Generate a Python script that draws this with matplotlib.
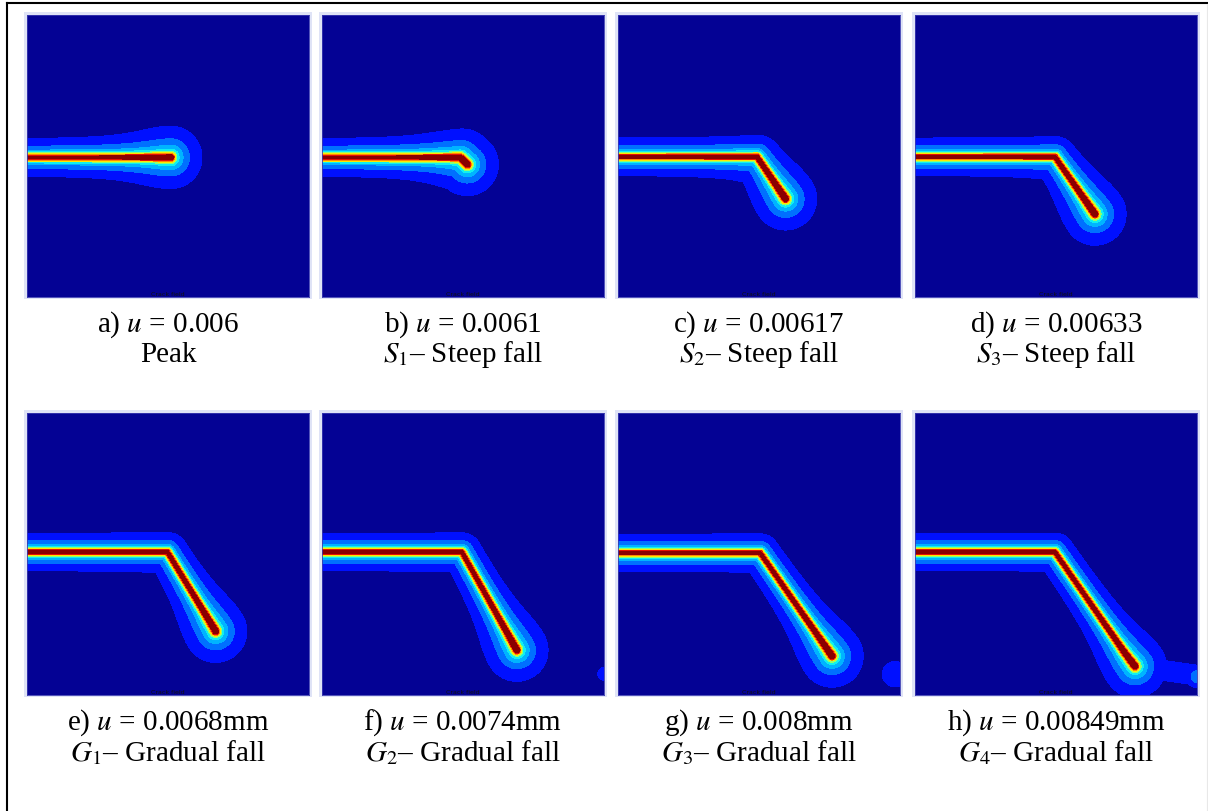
import numpy as np
import matplotlib.pyplot as plt
from matplotlib.patches import Rectangle
from matplotlib.lines import Line2D

plt.rcParams['font.family'] = ['Liberation Serif', 'DejaVu Serif']
plt.rcParams['mathtext.fontset'] = 'stix'

# captions
labels = ['a)', 'b)', 'c)', 'd)', 'e)', 'f)', 'g)', 'h)']
displacements = ['0.006', '0.0061', '0.00617', '0.00633',
                 '0.0068mm', '0.0074mm', '0.008mm', '0.00849mm']
stages = ['Peak', '$S_1$– Steep fall', '$S_2$– Steep fall', '$S_3$– Steep fall',
          '$G_1$– Gradual fall', '$G_2$– Gradual fall', '$G_3$– Gradual fall',
          '$G_4$– Gradual fall']

# crack path vertices, fraction of plate (y from top)
crack_x = [[0, 0.51], [0, 0.49, 0.515], [0, 0.493, 0.594], [0, 0.496, 0.638],
           [0, 0.498, 0.669], [0, 0.496, 0.691], [0, 0.504, 0.759],
           [0, 0.496, 0.74, 0.78]]
crack_y = [[0.505, 0.505], [0.505, 0.505, 0.53], [0.503, 0.503, 0.652],
           [0.503, 0.503, 0.706], [0.493, 0.493, 0.774], [0.493, 0.493, 0.841],
           [0.496, 0.496, 0.862], [0.493, 0.493, 0.845, 0.898]]

# weak damage spots near the right edge
spot_panel = [5, 6, 7]
spot_x = [1.0, 0.982, 1.0]
spot_y = [0.925, 0.926, 0.935]
spot_peak = [0.15, 0.16, 0.26]
spot_rad = [0.035, 0.065, 0.04]

# weak damage band (panel h, tip to right edge)
band_panel = [7]
band_x = [[0.78, 1.0]]
band_y = [[0.898, 0.93]]
band_peak = [0.15]
band_rad = [0.055]

levels = [0, 0.1, 0.2, 0.3, 0.4, 0.5, 0.6, 0.7, 0.8, 0.9, 1.01]
band_colors = ['#040294', '#0010ff', '#0070ff', '#00b4ff', '#10f0f0',
               '#90ff70', '#ffe800', '#ff8a00', '#e61000', '#8a0000']


def seg_dist(px, py, x0, y0, x1, y1):
    dx, dy = x1 - x0, y1 - y0
    t = ((px - x0) * dx + (py - y0) * dy) / (dx * dx + dy * dy)
    t = np.clip(t, 0, 1)
    return np.hypot(px - (x0 + t * dx), py - (y0 + t * dy))


def path_dist(X, Y, px, py):
    d = np.full(X.shape, 10.0)
    for k in range(len(px) - 1):
        d = np.minimum(d, seg_dist(X, Y, px[k], py[k], px[k + 1], py[k + 1]))
    return d


xs = np.linspace(0, 1, 450)
X, Y = np.meshgrid(xs, xs)

fig = plt.figure(figsize=(12.08, 8.12), dpi=100)
W, H = 1208, 812
lefts = [27, 322, 618, 915]
tops = [16, 414]
size = 282

for i in range(8):
    r, c = divmod(i, 4)
    x0, y0 = lefts[c], tops[r]
    fig.patches.append(Rectangle(((x0 - 3) / W, 1 - (y0 + size + 2) / H),
                                 (size + 6) / W, (size + 5) / H,
                                 transform=fig.transFigure,
                                 facecolor='#dfe3f6', edgecolor='none', zorder=-5))
    ax = fig.add_axes([x0 / W, 1 - (y0 + size) / H, size / W, size / H])
    ax.set_zorder(2)

    px, py = crack_x[i], crack_y[i]
    dist = path_dist(X, Y, px, py)
    field = 0.45 * np.exp(-(dist / 0.0142) ** 2) + 0.55 * np.exp(-dist / 0.039)
    rt = np.hypot(X - px[-1], Y - py[-1])
    field = field + 0.17 * np.exp(-rt / 0.12)
    for j in range(len(spot_panel)):
        if spot_panel[j] == i:
            rs = np.hypot(X - spot_x[j], Y - spot_y[j])
            field = np.maximum(field, spot_peak[j] * np.exp(-(rs / spot_rad[j]) ** 2))
    for j in range(len(band_panel)):
        if band_panel[j] == i:
            rb = path_dist(X, Y, band_x[j], band_y[j])
            field = np.maximum(field, band_peak[j] * np.exp(-(rb / band_rad[j]) ** 2))
    field = np.clip(field, 0, 1)

    ax.contourf(X, Y, field, levels=levels, colors=band_colors)
    ax.set_xlim(0, 1)
    ax.set_ylim(1, 0)
    ax.set_xticks([])
    ax.set_yticks([])
    for s in ax.spines.values():
        s.set_color('#3a3ab0')
        s.set_linewidth(0.6)
    ax.text(0.5, 0.004, 'Crack field', transform=ax.transAxes, ha='center',
            va='bottom', fontsize=4.5, family='DejaVu Sans', color='#111111')

    cx = (x0 + size / 2) / W
    ty = tops[r] + size
    fig.text(cx, 1 - (ty + 27) / H, labels[i] + ' $u$ = ' + displacements[i],
             ha='center', va='center', fontsize=21)
    fig.text(cx, 1 - (ty + 57) / H, stages[i], ha='center', va='center',
             fontsize=21)

# frame lines (left and top)
fig.add_artist(Line2D([7 / W, 7 / W], [0, 1 - 4 / H], transform=fig.transFigure,
                      color='black', lw=1.5))
fig.add_artist(Line2D([7 / W, 1], [1 - 4 / H, 1 - 4 / H], transform=fig.transFigure,
                      color='black', lw=1.5))
fig.add_artist(Line2D([1207 / W, 1207 / W], [0, 1 - 5 / H], transform=fig.transFigure,
                      color='#e8e8e8', lw=0.8))

fig.savefig('out.png', dpi=100)
